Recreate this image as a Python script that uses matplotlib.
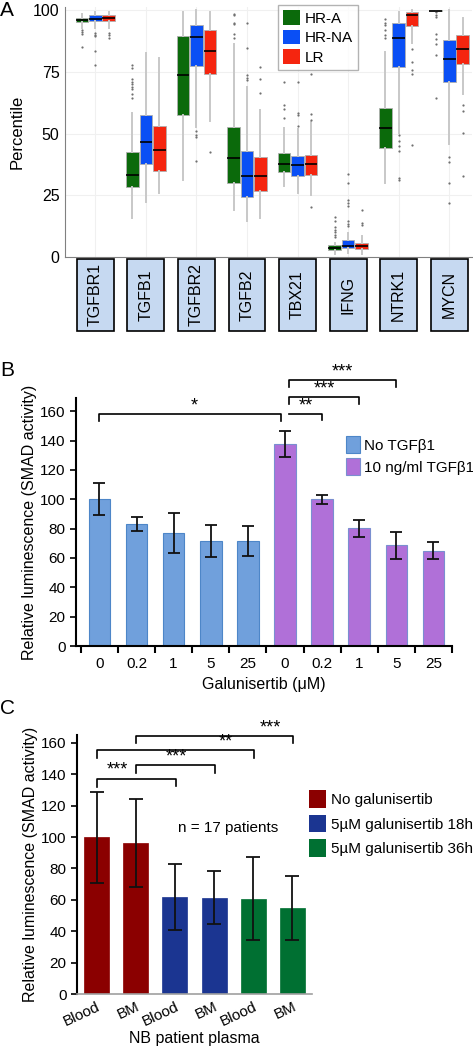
import numpy as np
import matplotlib
matplotlib.use('Agg')
import matplotlib.pyplot as plt
from matplotlib.patches import Patch

plt.rcParams['font.family'] = ['Liberation Sans', 'DejaVu Sans']

# ---------------- Panel A data (percentile box stats) ----------------
genes = ['TGFBR1', 'TGFB1', 'TGFBR2', 'TGFB2', 'TBX21', 'IFNG', 'NTRK1', 'MYCN']
groups = ['HR-A', 'HR-NA', 'LR']

# per group: lists over genes
med = {
    'HR-A':  [96.0, 33.2, 73.7, 40.0, 37.7, 3.6, 52.2, 99.9],
    'HR-NA': [96.6, 46.5, 89.4, 32.9, 37.2, 4.4, 88.7, 80.3],
    'LR':    [96.9, 43.3, 83.6, 33.0, 37.7, 4.6, 98.0, 84.5],
}
q1 = {
    'HR-A':  [95.1, 28.2, 57.5, 29.9, 34.4, 3.0, 44.2, 99.7],
    'HR-NA': [95.7, 37.6, 77.4, 24.4, 33.0, 3.6, 77.0, 70.8],
    'LR':    [95.6, 34.9, 74.1, 26.7, 33.2, 3.2, 93.8, 78.4],
}
q3 = {
    'HR-A':  [97.0, 42.5, 89.5, 52.8, 42.3, 4.7, 60.5, 100.0],
    'HR-NA': [98.1, 57.4, 94.2, 43.1, 41.0, 6.7, 95.0, 88.1],
    'LR':    [98.0, 53.2, 92.2, 40.7, 41.5, 5.7, 99.2, 89.9],
}
wlo = {
    'HR-A':  [93.0, 15.8, 31.1, 19.1, 28.6, 1.3, 29.9, 99.5],
    'HR-NA': [93.0, 22.2, 52.8, 14.4, 25.9, 1.6, 50.1, 46.0],
    'LR':    [93.0, 26.1, 55.1, 15.8, 25.2, 1.3, 86.8, 66.3],
}
whi = {
    'HR-A':  [98.5, 58.5, 99.3, 86.3, 52.2, 5.7, 83.2, 100.0],
    'HR-NA': [99.5, 82.7, 100.0, 69.0, 52.0, 9.7, 99.3, 100.0],
    'LR':    [99.5, 80.7, 99.3, 59.6, 54.9, 8.4, 100.0, 97.0],
}
fliers = {
    'HR-A': [[91.9, 91.2, 90.6, 85.2],
             [77.8, 76.5, 72.0, 71.0, 70.0, 69.0, 68.0, 66.0, 64.5],
             [],
             [98.6, 98.0, 95.0, 94.6, 90.5, 89.0],
             [71.0, 61.6, 60.2, 56.2],
             [16.2, 14.4, 12.0, 11.0, 10.0, 9.0, 8.0],
             [96.6, 95.0, 94.0, 92.0, 90.0, 89.0],
             [99.3, 98.0, 97.5, 90.6, 88.5, 86.5, 81.8, 64.3]],
    'HR-NA': [[91.0, 90.0, 89.5, 83.4, 78.0],
              [],
              [51.0, 49.5, 48.5, 39.0],
              [94.9, 84.8, 73.7, 72.5, 71.7],
              [71.0, 58.2, 57.5, 53.1],
              [33.7, 30.2, 23.2, 22.0, 20.5, 14.4, 13.5, 12.4],
              [49.5, 47.0, 45.0, 43.0, 31.9, 31.3],
              [40.7, 38.7, 29.9, 21.8]],
    'LR': [[91.0, 90.0, 89.0],
           [],
           [42.6],
           [77.1, 72.1, 66.6],
           [74.4, 58.0, 55.5, 20.2],
           [18.9, 13.7, 12.9],
           [84.2, 79.1, 75.7, 74.4, 45.4],
           [61.6, 59.2, 50.4, 32.9]],
}
grp_colors = {'HR-A': '#0b6a0b', 'HR-NA': '#0a4ff5', 'LR': '#f5250f'}

# ---------------- Panel B data ----------------
b_labels = ['0', '0.2', '1', '5', '25', '0', '0.2', '1', '5', '25']
b_no_tgf = [100, 83.3, 76.7, 71.7, 71.7]
b_no_tgf_err = [11, 4.7, 13.6, 10.9, 10.2]
b_tgf = [137.8, 99.9, 80.1, 68.5, 64.9]
b_tgf_err = [9, 3.3, 5.7, 9, 5.9]

# ---------------- Panel C data ----------------
c_labels = ['Blood', 'BM', 'Blood', 'BM', 'Blood', 'BM']
c_vals = [99.9, 96.0, 61.8, 61.4, 60.8, 54.8]
c_err = [29, 28, 21, 17, 26.5, 20.5]
c_groups = ['No galunisertib', '5\u00b5M galunisertib 18h', '5\u00b5M galunisertib 36h']
c_colors = ['#8b0000', '#1b3591', '#007032']

W, H = 473, 1050
fig = plt.figure(figsize=(W / 100, H / 100), dpi=100)


def fx(px):
    return px / W


def fy(px):
    return 1 - px / H


# ================= Panel A =================
axA = fig.add_axes([fx(65), fy(257), fx(472 - 65), (257 - 6.7) / H])
pos = np.arange(len(genes))
offs = {'HR-A': -0.266, 'HR-NA': 0.0, 'LR': 0.266}
for g in groups:
    stats = []
    for i in range(len(genes)):
        stats.append(dict(med=med[g][i], q1=q1[g][i], q3=q3[g][i],
                          whislo=wlo[g][i], whishi=whi[g][i], fliers=fliers[g][i]))
    axA.bxp(stats, positions=pos + offs[g], widths=0.25, patch_artist=True,
            showcaps=False,
            boxprops=dict(facecolor=grp_colors[g], edgecolor='#b0b0b0', linewidth=0.6),
            medianprops=dict(color='black', linewidth=1.2),
            whiskerprops=dict(color='#c8c8c8', linewidth=1.4),
            flierprops=dict(marker='o', markersize=1.6, markerfacecolor='#707070',
                            markeredgecolor='none'))
axA.set_xlim(-0.6, 7.45)
axA.set_ylim(0, 101.5)
axA.set_yticks([0, 25, 50, 75, 100])
axA.set_xticks([])
axA.grid(True, color='#f0f0f0', linewidth=0.8)
for x in pos:
    axA.axvline(x, color='#f0f0f0', linewidth=0.8, zorder=0)
axA.set_axisbelow(True)
for s in ['top', 'right']:
    axA.spines[s].set_visible(False)
axA.spines['left'].set_color('#808080')
axA.spines['bottom'].set_color('#808080')
axA.tick_params(axis='y', labelsize=11.5, length=0, pad=4)
axA.set_ylabel('Percentile', fontsize=12, labelpad=6)
axA.legend(handles=[Patch(facecolor=grp_colors[g], edgecolor='none', label=g) for g in groups],
           loc='upper left', bbox_to_anchor=(fx(278), fy(5)), bbox_transform=fig.transFigure,
           fontsize=11, frameon=True, fancybox=False, edgecolor='#a0a0a0',
           handlelength=1.1, handleheight=1.1, handletextpad=0.3, borderpad=0.35,
           labelspacing=0.25, borderaxespad=0)

# gene label strip
axS = fig.add_axes([fx(65), fy(332), fx(472 - 65), 74 / H])
axS.bar(pos, 1, width=0.73, bottom=0, color='#c6d9f1', edgecolor='black', linewidth=1.2)
for x, gname in zip(pos, genes):
    axS.text(x, 0.5, gname, rotation=90, ha='center', va='center', fontsize=11.5)
axS.set_xlim(-0.6, 7.45)
axS.set_ylim(-0.02, 1.02)
axS.axis('off')

fig.text(0.0, fy(10), 'A', fontsize=15, va='center', ha='left')

# ================= Panel B =================
axB = fig.add_axes([fx(76), fy(646), fx(452 - 76), (646 - 398) / H])
xb = np.arange(10)
axB.bar(xb[:5], b_no_tgf, width=0.58, color='#70a0dc', edgecolor='#4d86c8', linewidth=0.8,
        yerr=b_no_tgf_err, capsize=4, error_kw=dict(elinewidth=1.3, capthick=1.3, ecolor='#111111'),
        label='No TGF\u03b21')
axB.bar(xb[5:], b_tgf, width=0.58, color='#b070d8', edgecolor='#7a8fd0', linewidth=0.8,
        yerr=b_tgf_err, capsize=4, error_kw=dict(elinewidth=1.3, capthick=1.3, ecolor='#111111'),
        label='10 ng/ml TGF\u03b21')
axB.set_xlim(-0.63, 9.5)
axB.set_ylim(0, 169)
axB.set_yticks(np.arange(0, 161, 20))
axB.set_xticks(xb)
axB.set_xticklabels(b_labels)
axB.set_xticks(np.arange(-0.5, 9.6, 1), minor=True)
axB.tick_params(axis='x', which='major', length=0, labelsize=11, pad=8)
axB.tick_params(axis='x', which='minor', length=5, width=1.5, direction='out')
axB.tick_params(axis='y', labelsize=11, length=4, width=1.2, direction='out')
for s in ['top', 'right']:
    axB.spines[s].set_visible(False)
axB.spines['left'].set_linewidth(1.5)
axB.spines['bottom'].set_linewidth(1.5)
axB.set_ylabel('Relative luminescence (SMAD activity)', fontsize=11.5, labelpad=2)
axB.set_xlabel('Galunisertib (\u03bcM)', fontsize=11.5, labelpad=4)
axB.legend(loc='upper left', bbox_to_anchor=(fx(340), fy(430)), bbox_transform=fig.transFigure,
           frameon=False, fontsize=11, handlelength=0.9, handleheight=1.3,
           handletextpad=0.3, labelspacing=0.35, borderaxespad=0)


def bracket(ax, x0, x1, y, d0, d1, label, lx=None, fs=13):
    ax.plot([x0, x0, x1, x1], [y - d0, y, y, y - d1], color='black', lw=1.2, clip_on=False)
    if lx is None:
        lx = (x0 + x1) / 2
    ax.text(lx, y, label, ha='center', va='bottom', fontsize=fs, clip_on=False)


bracket(axB, 0, 4.9, 158, 4.6, 4.6, '*', lx=2.55)
bracket(axB, 5.12, 6.0, 158, 0, 4, '**', lx=5.55)
bracket(axB, 5.12, 7.0, 169.5, 4.7, 4.7, '***', lx=6.05)
bracket(axB, 5.12, 8.0, 181, 4.4, 4.4, '***', lx=6.55)
fig.text(0.0, fy(370), 'B', fontsize=15, va='center', ha='left')

# ================= Panel C =================
axC = fig.add_axes([fx(77), fy(994), fx(312 - 77), (994 - 735) / H])
xc = np.arange(6)
bar_cols = [c_colors[i // 2] for i in range(6)]
axC.bar(xc, c_vals, width=0.64, color=bar_cols, edgecolor=bar_cols, linewidth=0.5,
        yerr=c_err, capsize=5, error_kw=dict(elinewidth=1.3, capthick=1.3, ecolor='#111111'))
axC.set_xlim(-0.5, 5.5)
axC.set_ylim(0, 165)
axC.set_yticks(np.arange(0, 161, 20))
axC.set_xticks(xc)
axC.set_xticklabels(c_labels, rotation=25, ha='right', rotation_mode='anchor')
axC.tick_params(axis='x', length=0, labelsize=11, pad=4)
axC.tick_params(axis='y', labelsize=11, length=4, width=1.2, direction='out')
for s in ['top', 'right']:
    axC.spines[s].set_visible(False)
axC.spines['left'].set_linewidth(1.5)
axC.spines['bottom'].set_color('#a0a0a0')
axC.spines['bottom'].set_linewidth(1.2)
axC.set_ylabel('Relative luminescence (SMAD activity)', fontsize=11.5, labelpad=2)
axC.set_xlabel('NB patient plasma', fontsize=11.5, labelpad=2)
axC.text(3.36, 106, 'n = 17 patients', ha='center', va='center', fontsize=11)

bracket(axC, 0, 2.02, 137, 5, 4.3, '***', lx=0.53)
bracket(axC, 1, 3.02, 145.8, 4.8, 4.8, '***', lx=2.05)
bracket(axC, 0, 4.02, 155.3, 4.9, 4.9, '**', lx=3.3)
bracket(axC, 1, 5.02, 164.3, 4.3, 4.3, '***', lx=4.45)
axC.legend(handles=[Patch(facecolor=c, edgecolor='none', label=l) for c, l in zip(c_colors, c_groups)],
           loc='upper left', bbox_to_anchor=(fx(303), fy(784)), bbox_transform=fig.transFigure,
           frameon=False, fontsize=11, handlelength=1.1, handleheight=1.4,
           handletextpad=0.3, labelspacing=0.45, borderaxespad=0)
fig.text(0.0, fy(708), 'C', fontsize=15, va='center', ha='left')

fig.savefig('out.png', dpi=100)
